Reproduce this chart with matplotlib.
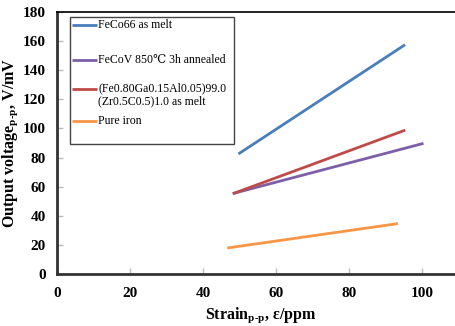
import matplotlib
matplotlib.use("Agg")
import matplotlib.pyplot as plt
from matplotlib.patches import Rectangle

plt.rcParams['font.family'] = ['Liberation Serif', 'DejaVu Serif']
plt.rcParams['mathtext.fontset'] = 'custom'
plt.rcParams['mathtext.rm'] = 'Liberation Serif:bold'
plt.rcParams['mathtext.bf'] = 'Liberation Serif:bold'

# data
feco_x = [50, 95]
feco_y = [83, 157]
fecov_x = [48.5, 100]
fecov_y = [55.5, 89.5]
fega_x = [48.5, 95]
fega_y = [55.5, 98.5]
iron_x = [47, 93]
iron_y = [18, 34.5]

labels = ["FeCo66 as melt",
          "FeCoV 850\u2103 3h annealed",
          "(Fe0.80Ga0.15Al0.05)99.0\n(Zr0.5C0.5)1.0 as melt",
          "Pure iron"]
colors = ["#4a7ebb", "#7d5fa8", "#be4b48", "#f79646"]

fig = plt.figure(figsize=(4.55, 3.26), dpi=100)
ax = fig.add_axes([0.1253, 0.1595, 0.8747, 0.8037])

ax.plot(feco_x, feco_y, color=colors[0], lw=2)
ax.plot(fecov_x, fecov_y, color=colors[1], lw=2)
ax.plot(fega_x, fega_y, color=colors[2], lw=2)
ax.plot(iron_x, iron_y, color=colors[3], lw=2)

ax.set_xlim(0, 109)
ax.set_ylim(0, 180)
ax.set_xticks(range(0, 101, 20))
ax.set_yticks(range(0, 181, 20))
ax.tick_params(direction='in', length=4, width=1, color='#bbbbbb', labelsize=11)
ax.tick_params(axis='y', pad=8)
ax.tick_params(axis='x', pad=9)
for lab in ax.get_xticklabels() + ax.get_yticklabels():
    lab.set_fontweight('bold')

ax.spines['right'].set_visible(False)
ax.spines['top'].set_linewidth(1.2)
ax.spines['left'].set_linewidth(2)
ax.spines['bottom'].set_linewidth(2)
ax.spines['left'].set_color('#333333')
ax.spines['bottom'].set_color('#333333')

ax.set_xlabel(r'Strain$_{\mathbf{p\text{-}p}}$, ε/ppm', fontsize=11.5, fontweight='bold')
ax.xaxis.set_label_coords(0.512, -0.12)
ax.set_ylabel(r'Output voltage$_{\mathbf{p\text{-}p}}$, V/mV', fontsize=11.5, fontweight='bold', labelpad=2)

# legend box drawn by hand to follow the uneven spacing of the original
ax.add_patch(Rectangle((0.0327, 0.4962), 0.412, 0.4847, transform=ax.transAxes,
                       facecolor='white', edgecolor='#444444', lw=1, zorder=5))
entry_y = [0.9504, 0.8168, 0.6832, 0.5840]
handle_y = [0.9504, 0.8168, 0.7061, 0.5840]
for lab, col, ty, hy in zip(labels, colors, entry_y, handle_y):
    ax.plot([0.0377, 0.1005], [hy, hy], color=col, lw=2, transform=ax.transAxes,
            zorder=6, solid_capstyle='butt')
    ax.text(0.103, ty, lab, transform=ax.transAxes, fontsize=8.5, va='center',
            ha='left', linespacing=1.05, zorder=6)

plt.savefig('out.png', dpi=100)
